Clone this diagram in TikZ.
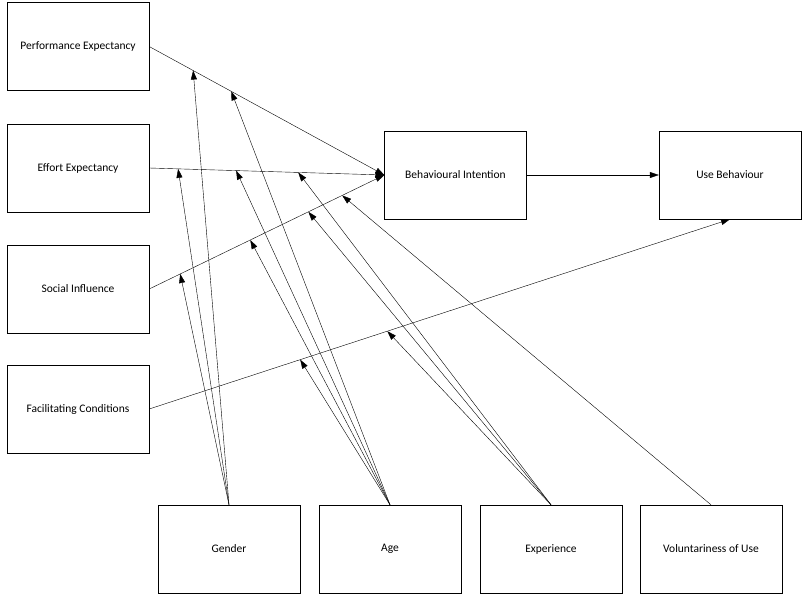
\documentclass[tikz,border=0pt]{standalone}
\usepackage{fontspec}
\setmainfont{Carlito}
\usetikzlibrary{arrows.meta,calc}
\begin{document}
\begin{tikzpicture}[x=1pt,y=-1pt]
        \tikzset{
            box/.style={draw=black,minimum width=142pt,minimum height=88pt,inner sep=2pt,font=\fontsize{11.5}{13}\selectfont},
            link/.style={-{Triangle[length=9pt,width=6pt]}}
        }
        \useasboundingbox (0,0) rectangle (808,604);
        \node[box] (pe) at (78,46.5) {Performance Expectancy};
        \node[box] (ee) at (78,168) {Effort Expectancy};
        \node[box] (si) at (78,289) {Social Influence};
        \node[box] (fc) at (78,409) {Facilitating Conditions};

        \node[box] (bi) at (455.5,175) {Behavioural Intention};
        \node[box] (ub) at (730,175) {Use Behaviour};

        \node[box] (gen) at (229,549) {Gender};
        \node[box] (age) at (390,549) {Age};
        \node[box] (exp) at (551,549) {Experience};
        \node[box] (vol) at (711,549) {Voluntariness of Use};

        \coordinate (bitip) at (bi.west);
        \draw[link] (pe.east) -- (bitip);
        \draw[link] (ee.east) -- (bitip);
        \draw[link] (si.east) -- (bitip);
        \draw[link] (fc.east) -- (ub.south);
        \draw[link] (bi.east) -- (ub.west);

        % moderators
        \foreach \f/\src in {0.187/gen,0.349/age}{
                \draw[link] (\src.north) -- ($(pe.east)!\f!(bitip)$);
            }
        \foreach \f/\src in {0.123/gen,0.37/age,0.634/exp}{
                \draw[link] (\src.north) -- ($(ee.east)!\f!(bitip)$);
            }
        \foreach \f/\src in {0.132/gen,0.43/age,0.677/exp,0.821/vol}{
                \draw[link] (\src.north) -- ($(si.east)!\f!(bitip)$);
            }
        \foreach \f/\src in {0.26/age,0.41/exp}{
                \draw[link] (\src.north) -- ($(fc.east)!\f!(ub.south)$);
            }
    \end{tikzpicture}
\end{document}
